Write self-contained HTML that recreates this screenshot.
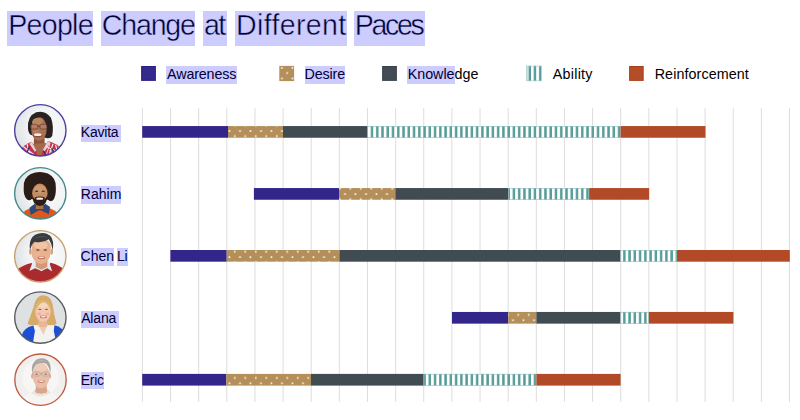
<!DOCTYPE html>
<html><head><meta charset="utf-8"><title>People Change at Different Paces</title>
<style>
html,body{margin:0;padding:0;background:#fff;}
body{width:800px;height:420px;position:relative;overflow:hidden;font-family:"Liberation Sans",sans-serif;}
.t{position:absolute;white-space:nowrap;}
.title{color:#000;-webkit-text-stroke:0.45px #fff;}
.leg{color:#000;}
.name{color:#000;}
.hl{position:absolute;background:rgba(0,0,255,0.2);}
</style></head><body>

<svg id="chart" width="800" height="420" viewBox="0 0 800 420" style="position:absolute;left:0;top:0">
<defs>
<pattern id="dots" patternUnits="userSpaceOnUse" x="0" y="0" width="10.5" height="10.514">
<rect width="10.5" height="10.514" fill="#b48f5a"/>
<rect x="8.2" y="4.05" width="1.6" height="1.6" fill="#ffffff"/>
<rect x="2.95" y="9.15" width="1.6" height="1.6" fill="#ffffff"/>
<rect x="2.95" y="-1.364" width="1.6" height="1.6" fill="#ffffff"/>
</pattern>
<pattern id="stripes" patternUnits="userSpaceOnUse" x="0" y="0" width="5.257" height="20">
<rect width="5.257" height="20" fill="#ffffff"/>
<rect x="2.78" y="0" width="2.45" height="20" fill="#559b98"/>
</pattern>
</defs>
<rect x="141.90" y="108.1" width="1" height="293.8" fill="#dddddd"/>
<rect x="170.03" y="108.1" width="1" height="293.8" fill="#dddddd"/>
<rect x="198.17" y="108.1" width="1" height="293.8" fill="#dddddd"/>
<rect x="226.31" y="108.1" width="1" height="293.8" fill="#dddddd"/>
<rect x="254.44" y="108.1" width="1" height="293.8" fill="#dddddd"/>
<rect x="282.58" y="108.1" width="1" height="293.8" fill="#dddddd"/>
<rect x="310.71" y="108.1" width="1" height="293.8" fill="#dddddd"/>
<rect x="338.85" y="108.1" width="1" height="293.8" fill="#dddddd"/>
<rect x="366.98" y="108.1" width="1" height="293.8" fill="#dddddd"/>
<rect x="395.12" y="108.1" width="1" height="293.8" fill="#dddddd"/>
<rect x="423.25" y="108.1" width="1" height="293.8" fill="#dddddd"/>
<rect x="451.38" y="108.1" width="1" height="293.8" fill="#dddddd"/>
<rect x="479.52" y="108.1" width="1" height="293.8" fill="#dddddd"/>
<rect x="507.65" y="108.1" width="1" height="293.8" fill="#dddddd"/>
<rect x="535.79" y="108.1" width="1" height="293.8" fill="#dddddd"/>
<rect x="563.93" y="108.1" width="1" height="293.8" fill="#dddddd"/>
<rect x="592.06" y="108.1" width="1" height="293.8" fill="#dddddd"/>
<rect x="620.20" y="108.1" width="1" height="293.8" fill="#dddddd"/>
<rect x="648.33" y="108.1" width="1" height="293.8" fill="#dddddd"/>
<rect x="676.47" y="108.1" width="1" height="293.8" fill="#dddddd"/>
<rect x="704.60" y="108.1" width="1" height="293.8" fill="#dddddd"/>
<rect x="732.74" y="108.1" width="1" height="293.8" fill="#dddddd"/>
<rect x="760.87" y="108.1" width="1" height="293.8" fill="#dddddd"/>
<rect x="789.00" y="108.1" width="1" height="293.8" fill="#dddddd"/>
<rect x="142.20" y="126.05" width="85.80" height="11.7" fill="#33268a"/>
<rect x="228.00" y="126.05" width="55.00" height="11.7" fill="url(#dots)"/>
<rect x="283.00" y="126.05" width="84.40" height="11.7" fill="#414b52"/>
<rect x="367.40" y="126.05" width="253.20" height="11.7" fill="url(#stripes)"/>
<rect x="367.70" y="126.35" width="252.60" height="11.1" fill="none" stroke="#8fc0bd" stroke-width="0.6"/>
<rect x="620.60" y="126.05" width="84.90" height="11.7" fill="#b24a27"/>
<rect x="253.90" y="188.05" width="85.10" height="11.7" fill="#33268a"/>
<rect x="339.00" y="188.05" width="56.40" height="11.7" fill="url(#dots)"/>
<rect x="395.40" y="188.05" width="112.80" height="11.7" fill="#414b52"/>
<rect x="508.20" y="188.05" width="80.90" height="11.7" fill="url(#stripes)"/>
<rect x="508.50" y="188.35" width="80.30" height="11.1" fill="none" stroke="#8fc0bd" stroke-width="0.6"/>
<rect x="589.10" y="188.05" width="60.00" height="11.7" fill="#b24a27"/>
<rect x="170.40" y="250.00" width="56.30" height="11.7" fill="#33268a"/>
<rect x="226.70" y="250.00" width="112.70" height="11.7" fill="url(#dots)"/>
<rect x="339.40" y="250.00" width="281.20" height="11.7" fill="#414b52"/>
<rect x="620.60" y="250.00" width="56.40" height="11.7" fill="url(#stripes)"/>
<rect x="620.90" y="250.30" width="55.80" height="11.1" fill="none" stroke="#8fc0bd" stroke-width="0.6"/>
<rect x="677.00" y="250.00" width="112.80" height="11.7" fill="#b24a27"/>
<rect x="452.00" y="311.95" width="56.20" height="11.7" fill="#33268a"/>
<rect x="508.20" y="311.95" width="28.20" height="11.7" fill="url(#dots)"/>
<rect x="536.40" y="311.95" width="84.20" height="11.7" fill="#414b52"/>
<rect x="620.60" y="311.95" width="28.20" height="11.7" fill="url(#stripes)"/>
<rect x="620.90" y="312.25" width="27.60" height="11.1" fill="none" stroke="#8fc0bd" stroke-width="0.6"/>
<rect x="648.80" y="311.95" width="84.60" height="11.7" fill="#b24a27"/>
<rect x="142.20" y="373.90" width="84.10" height="11.7" fill="#33268a"/>
<rect x="226.30" y="373.90" width="84.70" height="11.7" fill="url(#dots)"/>
<rect x="311.00" y="373.90" width="112.70" height="11.7" fill="#414b52"/>
<rect x="423.70" y="373.90" width="112.70" height="11.7" fill="url(#stripes)"/>
<rect x="424.00" y="374.20" width="112.10" height="11.1" fill="none" stroke="#8fc0bd" stroke-width="0.6"/>
<rect x="536.40" y="373.90" width="84.20" height="11.7" fill="#b24a27"/>
<rect x="141.10" y="66" width="14.80" height="14.9" fill="#2a1d88"/>
<rect x="142.10" y="67" width="12.80" height="12.9" fill="#35298b"/>
<rect x="279.3" y="65.9" width="14.8" height="15.2" fill="url(#dots)"/>
<rect x="382.10" y="66" width="14.80" height="14.9" fill="#37414a"/>
<rect x="383.10" y="67" width="12.80" height="12.9" fill="#434c54"/>
<rect x="526.1" y="65.8" width="15.6" height="15.3" fill="url(#stripes)"/>
<rect x="526.1" y="65.8" width="2.4" height="15.3" fill="#c9e0df"/>
<rect x="526.4" y="66.1" width="15.0" height="14.7" fill="none" stroke="#a9cfcc" stroke-width="0.6"/>
<rect x="629.10" y="66" width="14.60" height="14.9" fill="#a93c17"/>
<rect x="630.10" y="67" width="12.60" height="12.9" fill="#b44e29"/>
<defs>
<filter id="bl" x="-10%" y="-10%" width="120%" height="120%"><feGaussianBlur stdDeviation="3.8"/></filter>
<filter id="bl2" x="-10%" y="-10%" width="120%" height="120%"><feGaussianBlur stdDeviation="5"/></filter>
<clipPath id="cc"><circle cx="212" cy="212" r="169"/></clipPath>
<radialGradient id="bg1" cx="0.62" cy="0.45" r="0.62"><stop offset="0" stop-color="#fafbfb"/><stop offset="0.55" stop-color="#f1f3f4"/><stop offset="1" stop-color="#dde1e4"/></radialGradient>
</defs>
<!-- Kavita -->
<g transform="translate(8,98) scale(0.152381)">
<g clip-path="url(#cc)">
<rect x="30" y="30" width="370" height="370" fill="url(#bg1)"/>
<g filter="url(#bl)">
<path d="M131 200 Q126 118 185 94 Q245 78 282 130 Q302 185 290 250 Q276 270 252 262 L152 242 Q134 236 131 200 Z" fill="#2b2124"/>
<rect x="170" y="262" width="70" height="70" fill="#8d543a"/>
<path d="M150 302 L250 296 L232 400 L160 400 Z" fill="#a56a49"/>
<ellipse cx="203" cy="203" rx="51" ry="78" fill="#ab7050"/>
<ellipse cx="192" cy="152" rx="36" ry="24" fill="#bb8764"/>
<ellipse cx="185" cy="222" rx="22" ry="16" fill="#b47c5a"/>
<path d="M146 195 Q138 120 200 100 Q266 96 272 205 Q264 152 240 130 Q200 120 168 137 Q150 160 146 195 Z" fill="#2b2124"/>
<path d="M82 335 Q108 305 156 287 L186 345 L196 400 L60 400 Z" fill="#c3324b"/>
<path d="M262 283 Q322 300 352 332 L360 400 L214 400 L226 345 Z" fill="#c3324b"/>
<path d="M156 287 L186 345 L176 352 L140 300 Z" fill="#e9cdd3"/>
<path d="M262 283 L226 345 L238 352 L280 296 Z" fill="#e9cdd3"/>
<path d="M100 318 L170 372 M125 302 L150 395 M296 300 L262 395 M250 318 L338 360 M312 308 L335 395 M95 360 L190 390" stroke="#f6e9ee" stroke-width="8" fill="none"/>
<path d="M110 330 L180 395 M275 300 L245 392 M270 345 L345 385 M330 318 L350 390" stroke="#f0d5dc" stroke-width="6" fill="none"/>
<path d="M232 345 L258 392 M140 318 L112 388 M285 330 L320 380 M100 340 L140 380" stroke="#2e2c60" stroke-width="8" fill="none"/>
<rect x="149" y="173" width="46" height="30" rx="9" fill="#c0917a" fill-opacity="0.45" stroke="#55352c" stroke-width="3.6"/>
<rect x="210" y="173" width="46" height="30" rx="9" fill="#c0917a" fill-opacity="0.45" stroke="#55352c" stroke-width="3.6"/>
<path d="M195 184 L210 184" stroke="#4a2d27" stroke-width="4"/>
<ellipse cx="195" cy="244" rx="31" ry="14" fill="#8c4c3c"/>
<ellipse cx="195" cy="241" rx="26" ry="9" fill="#f6eeee"/>
</g>
</g>
<circle cx="212" cy="212" r="168.5" fill="none" stroke="#4a3ca2" stroke-width="9"/>
</g>
<!-- Rahim -->
<g transform="translate(8,161) scale(0.152381)">
<g clip-path="url(#cc)">
<rect x="30" y="30" width="370" height="370" fill="url(#bg1)"/>
<g filter="url(#bl)">
<path d="M103 175 Q98 110 150 85 Q205 60 262 82 Q318 110 314 175 Q316 230 296 258 Q280 270 262 255 L156 250 Q140 266 122 250 Q100 225 103 175 Z" fill="#2b1c13"/>
<path d="M88 352 Q112 318 160 305 L258 305 Q306 318 334 350 L334 400 L88 400 Z" fill="#e2561f"/>
<path d="M176 281 L141 306 L149 354 L207 322 Z" fill="#2f4a74"/>
<path d="M245 281 L276 302 L268 350 L211 322 Z" fill="#2f4a74"/>
<path d="M176 300 L209 325 L244 300 L244 285 L176 285 Z" fill="#2a4268"/>
<rect x="182" y="270" width="50" height="45" fill="#a97048"/>
<ellipse cx="209" cy="215" rx="51" ry="68" fill="#c18c62"/>
<ellipse cx="209" cy="185" rx="36" ry="26" fill="#cc9a70"/>
<path d="M158 215 Q158 292 209 296 Q260 292 260 215 Q250 262 209 264 Q168 262 158 215 Z" fill="#2b1b12"/>
<path d="M176 240 Q209 226 242 240 Q240 284 209 284 Q178 284 176 240 Z" fill="#2e1d14"/>
<ellipse cx="208" cy="247" rx="23" ry="8" fill="#f8f0ea"/>
<ellipse cx="188" cy="198" rx="11" ry="5" fill="#4a2e1e"/>
<ellipse cx="231" cy="198" rx="11" ry="5" fill="#4a2e1e"/>
<path d="M158 165 Q180 140 209 142 Q240 140 262 165 Q262 120 209 112 Q158 120 158 165 Z" fill="#2b1c13"/>
</g>
</g>
<circle cx="212" cy="212" r="168.5" fill="none" stroke="#3f8b8d" stroke-width="9"/>
</g>
<!-- Chen Li -->
<g transform="translate(8,224) scale(0.152381)">
<g clip-path="url(#cc)">
<rect x="30" y="30" width="370" height="370" fill="url(#bg1)"/>
<g filter="url(#bl)">
<path d="M60 300 Q90 272 154 256 L220 310 L280 254 Q340 270 368 298 L368 400 L60 400 Z" fill="#aa2b2d"/>
<path d="M166 238 L140 308 L178 290 L220 308 L258 290 L290 312 L266 236 Z" fill="#e2eaf2"/>
<path d="M182 240 L182 282 L220 300 L258 282 L258 240 Z" fill="#d49a76"/>
<ellipse cx="147" cy="182" rx="9" ry="20" fill="#d9a07c"/>
<ellipse cx="287" cy="182" rx="9" ry="20" fill="#d9a07c"/>
<ellipse cx="217" cy="182" rx="63" ry="80" fill="#e8b290"/>
<ellipse cx="218" cy="150" rx="64" ry="55" fill="#e8b290"/>
<ellipse cx="215" cy="140" rx="45" ry="24" fill="#f0c5a4"/>
<ellipse cx="196" cy="200" rx="18" ry="14" fill="#eab594"/>
<path d="M145 172 Q132 100 178 70 Q232 45 275 75 Q305 105 293 172 Q288 128 268 100 Q225 128 175 116 Q152 135 145 172 Z" fill="#383b3f"/>
<path d="M175 95 Q215 70 262 88 Q220 82 175 95 Z" fill="#5a5d61"/>
<ellipse cx="196" cy="171" rx="12" ry="5" fill="#6a4434"/>
<ellipse cx="245" cy="171" rx="12" ry="5" fill="#6a4434"/>
<ellipse cx="219" cy="222" rx="24" ry="9" fill="#b8604e"/>
<ellipse cx="219" cy="220" rx="18" ry="4.5" fill="#f6e8e2"/>
</g>
</g>
<circle cx="212" cy="212" r="168.5" fill="none" stroke="#c9a06c" stroke-width="9"/>
</g>
<!-- Alana -->
<g transform="translate(8,286) scale(0.152381)">
<g transform="translate(0.5,-4.6)">
<g clip-path="url(#cc)">
<rect x="30" y="30" width="370" height="370" fill="#dde1e1"/>
<g filter="url(#bl)">
<path d="M128 250 Q160 170 174 120 Q190 66 232 66 Q280 68 292 125 Q300 190 318 250 Q300 268 270 262 L170 262 Q140 266 128 250 Z" fill="#d6ab68"/>
<path d="M160 262 L312 262 L322 400 L150 400 Z" fill="#f4f2ef"/>
<path d="M88 335 Q96 280 166 264 L176 300 L160 400 L88 400 Z" fill="#1e50d4"/>
<path d="M304 262 Q362 274 370 325 L370 400 L322 400 L300 300 Z" fill="#1e50d4"/>
<path d="M196 255 L232 325 L260 255 Z" fill="#efc9b0"/>
<rect x="200" y="225" width="56" height="48" fill="#e6b799"/>
<ellipse cx="229" cy="172" rx="51" ry="67" fill="#f2c9ad"/>
<ellipse cx="228" cy="128" rx="36" ry="20" fill="#f6d6bf"/>
<path d="M176 180 Q176 100 228 96 Q280 100 284 180 Q270 122 236 112 Q196 118 176 180 Z" fill="#dcb473"/>
<ellipse cx="209" cy="158" rx="10" ry="4.5" fill="#866452"/>
<ellipse cx="252" cy="158" rx="10" ry="4.5" fill="#866452"/>
<ellipse cx="204" cy="188" rx="12" ry="9" fill="#eeb09c"/>
<ellipse cx="258" cy="188" rx="12" ry="9" fill="#eeb09c"/>
<ellipse cx="232" cy="208" rx="23" ry="9" fill="#d06a76"/>
<ellipse cx="232" cy="206" rx="17" ry="4.5" fill="#faf0f0"/>
</g>
</g>
<circle cx="212" cy="212" r="168.5" fill="none" stroke="#565c62" stroke-width="9"/>
</g>
</g>
<!-- Eric -->
<g transform="translate(8,349) scale(0.152381)">
<g transform="translate(1.3,-10.5)">
<g clip-path="url(#cc)">
<rect x="30" y="30" width="370" height="370" fill="#f1f0ef"/>
<g filter="url(#bl)">
<ellipse cx="212" cy="200" rx="120" ry="120" fill="#f7f6f5"/>
<path d="M80 355 Q110 305 178 290 L256 290 Q322 305 348 355 L348 400 L80 400 Z" fill="#f6f5f3"/>
<path d="M150 300 Q215 345 280 298 L262 280 L172 282 Z" fill="#e9e4e0"/>
<rect x="181" y="245" width="72" height="55" fill="#dcae94"/>
<path d="M176 288 Q216 322 258 286 L252 268 L182 268 Z" fill="#d9a68c"/>
<ellipse cx="158" cy="190" rx="8" ry="18" fill="#dcae96"/>
<ellipse cx="273" cy="190" rx="8" ry="18" fill="#dcae96"/>
<ellipse cx="216" cy="186" rx="55" ry="82" fill="#e9bfa9"/>
<ellipse cx="215" cy="135" rx="40" ry="26" fill="#efcdb8"/>
<path d="M158 175 Q146 100 190 78 Q232 62 260 86 Q288 112 274 175 Q272 128 248 106 Q208 96 180 116 Q164 138 158 175 Z" fill="#a8a49f"/>
<path d="M175 100 Q215 70 258 98 Q220 84 175 100 Z" fill="#bdb9b3"/>
<rect x="164" y="162" width="46" height="26" rx="9" fill="#ecd0c4" fill-opacity="0.4" stroke="#9c8a85" stroke-width="2.6"/>
<rect x="223" y="162" width="46" height="26" rx="9" fill="#ecd0c4" fill-opacity="0.4" stroke="#9c8a85" stroke-width="2.6"/>
<path d="M210 172 L223 172 M156 170 L164 172 M269 172 L278 170" stroke="#9c8a85" stroke-width="2.6"/>
<ellipse cx="187" cy="176" rx="9" ry="4" fill="#8a6a5c"/>
<ellipse cx="246" cy="176" rx="9" ry="4" fill="#8a6a5c"/>
<ellipse cx="217" cy="224" rx="24" ry="9" fill="#c47c6e"/>
<ellipse cx="217" cy="222" rx="17" ry="4.5" fill="#f9f1ee"/>
</g>
</g>
<circle cx="212" cy="212" r="168.5" fill="none" stroke="#c35c3f" stroke-width="9"/>
</g>
</g>

</svg>
<span class="t title" style="left:8.27px;top:9.62px;font-size:28.6px;line-height:31.95px;letter-spacing:-0.752px">People</span>
<span class="t title" style="left:101.86px;top:9.62px;font-size:28.6px;line-height:31.95px;letter-spacing:-1.227px">Change</span>
<span class="t title" style="left:204.01px;top:9.62px;font-size:28.6px;line-height:31.95px;letter-spacing:-1.706px">at</span>
<span class="t title" style="left:236.02px;top:9.62px;font-size:28.6px;line-height:31.95px;letter-spacing:0.321px">Different</span>
<span class="t title" style="left:354.77px;top:9.62px;font-size:28.6px;line-height:31.95px;letter-spacing:-2.340px">Paces</span>
<span class="t leg" style="left:167.10px;top:66.76px;font-size:14.3px;line-height:15.97px;letter-spacing:-0.154px">Awareness</span>
<span class="t leg" style="left:304.48px;top:66.76px;font-size:14.3px;line-height:15.97px;letter-spacing:-0.125px">Desire</span>
<span class="t leg" style="left:407.63px;top:66.76px;font-size:14.3px;line-height:15.97px;letter-spacing:0.011px">Knowledge</span>
<span class="t leg" style="left:552.75px;top:66.76px;font-size:14.3px;line-height:15.97px;letter-spacing:0.268px">Ability</span>
<span class="t leg" style="left:654.68px;top:66.76px;font-size:14.3px;line-height:15.97px;letter-spacing:0.090px">Reinforcement</span>
<span class="t name" style="left:80.81px;top:125.00px;font-size:14.0px;line-height:15.64px;letter-spacing:-0.221px">Kavita</span>
<span class="t name" style="left:80.81px;top:187.00px;font-size:14.0px;line-height:15.64px;letter-spacing:0.016px">Rahim</span>
<span class="t name" style="left:80.54px;top:249.00px;font-size:14.0px;line-height:15.64px;letter-spacing:0.025px">Chen</span>
<span class="t name" style="left:117.01px;top:249.00px;font-size:14.0px;line-height:15.64px;letter-spacing:-0.180px">Li</span>
<span class="t name" style="left:81.20px;top:311.00px;font-size:14.0px;line-height:15.64px;letter-spacing:-0.174px">Alana</span>
<span class="t name" style="left:80.81px;top:373.00px;font-size:14.0px;line-height:15.64px;letter-spacing:-0.266px">Eric</span>
<div class="hl" style="left:7.30px;top:10.60px;width:85.40px;height:35.00px"></div>
<div class="hl" style="left:101.05px;top:10.60px;width:94.45px;height:35.00px"></div>
<div class="hl" style="left:202.60px;top:10.60px;width:24.50px;height:35.00px"></div>
<div class="hl" style="left:235.40px;top:10.60px;width:111.60px;height:35.00px"></div>
<div class="hl" style="left:354.00px;top:10.60px;width:70.60px;height:35.00px"></div>
<div class="hl" style="left:166.30px;top:65.90px;width:70.60px;height:17.85px"></div>
<div class="hl" style="left:304.60px;top:65.90px;width:40.80px;height:17.85px"></div>
<div class="hl" style="left:406.90px;top:65.90px;width:48.10px;height:17.85px"></div>
<div class="hl" style="left:80.85px;top:124.90px;width:39.90px;height:17.25px"></div>
<div class="hl" style="left:80.85px;top:186.00px;width:40.25px;height:17.85px"></div>
<div class="hl" style="left:80.70px;top:248.05px;width:33.30px;height:17.85px"></div>
<div class="hl" style="left:117.10px;top:248.05px;width:10.60px;height:17.85px"></div>
<div class="hl" style="left:80.85px;top:310.60px;width:38.15px;height:17.40px"></div>
<div class="hl" style="left:80.85px;top:372.00px;width:22.85px;height:17.25px"></div>
</body></html>
